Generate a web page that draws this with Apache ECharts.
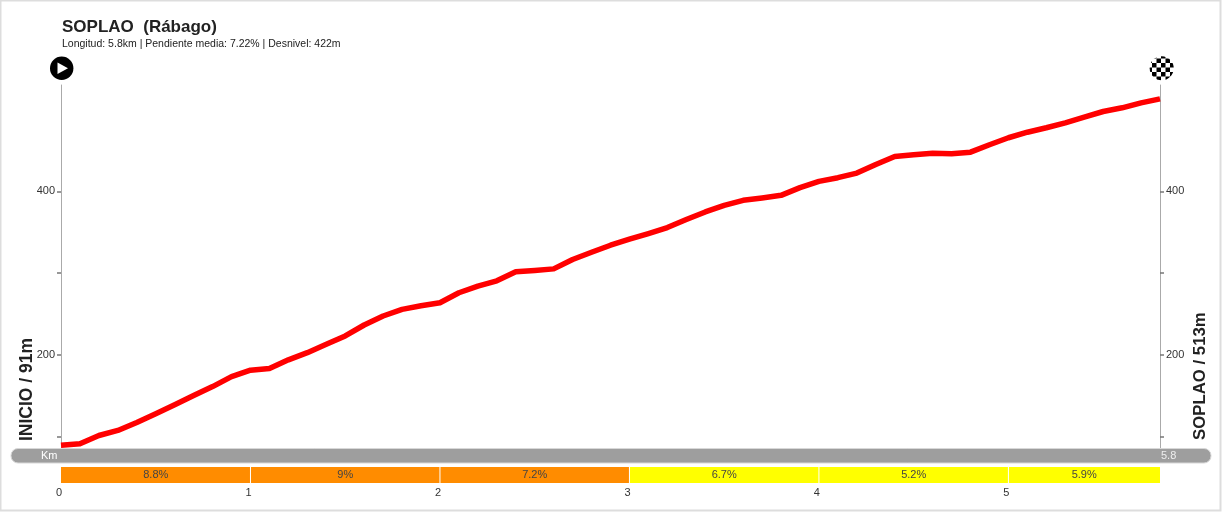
<!DOCTYPE html>
<html><head><meta charset="utf-8">
<style>html,body{margin:0;padding:0;background:#fff}#c{width:1222px;height:512px}</style>
<script src="https://cdn.jsdelivr.net/npm/echarts@6/dist/echarts.min.js"></script>
</head><body><div id="c"></div>
<script>
const titleText = 'SOPLAO  (Rábago)';
const subtitleText = 'Longitud: 5.8km | Pendiente media: 7.22% | Desnivel: 422m';
const startLabel = 'INICIO / 91m';
const endLabel = 'SOPLAO / 513m';
const km = [0,0.1,0.2,0.3,0.4,0.5,0.6,0.7,0.8,0.9,1,1.1,1.2,1.3,1.4,1.5,1.6,1.7,1.8,1.9,2,2.1,2.2,2.3,2.4,2.5,2.6,2.7,2.8,2.9,3,3.1,3.2,3.3,3.4,3.5,3.6,3.7,3.8,3.9,4,4.1,4.2,4.3,4.4,4.5,4.6,4.7,4.8,4.9,5,5.1,5.2,5.3,5.4,5.5,5.6,5.7,5.8];
const elevation = [89.5,91.5,101.5,107.7,117.4,128,139,150.4,161.3,173.5,181.3,183.3,194,202.8,213,223.2,236.6,247.6,255.7,260.1,263.8,276,284.1,290.6,301.6,303.3,305.2,316.7,325.6,334.1,341.5,348.4,355.7,365.5,374.8,382.9,389,391.8,395.1,404.5,412.2,416.7,422.3,432.9,442.7,444.8,446.7,446,447.9,457,465.5,472.3,477.7,483.8,490.6,497.6,502.1,508.2,513];
const segStart = [0,1,2,3,4,5];
const segEnd = [1,2,3,4,5,5.8];
const segGrade = ['8.8%','9%','7.2%','6.7%','5.2%','5.9%'];
const segColor = ['#FF8C00','#FF8C00','#FF8C00','#FFFF00','#FFFF00','#FFFF00'];
const yTicks = [100,200,300,400];
const yLabels = [200,400];
const xLabels = [0,1,2,3,4,5];
const kmLabel = 'Km';
const kmEnd = '5.8';

const font = '"Liberation Sans", Arial, sans-serif';
const chart = echarts.init(document.getElementById('c'), null, {renderer:'canvas'});

const pat = document.createElement('canvas');
pat.width = 9; pat.height = 9;
const pc = pat.getContext('2d');
pc.fillStyle = '#fff'; pc.fillRect(0,0,9,9);
pc.fillStyle = '#000'; pc.fillRect(0,0,4.5,4.5); pc.fillRect(4.5,4.5,4.5,4.5);

function yAxis(pos){
  return {
    type:'value', gridIndex:0, position:pos, min:85, max:530,
    axisLine:{show:true,lineStyle:{color:'#aaa',width:1}},
    axisTick:{show:true,length:4,customValues:yTicks,lineStyle:{color:'#777',width:1.5}},
    axisLabel:{show:true,customValues:yLabels,margin:6,fontSize:11,fontFamily:font,color:'#333'},
    splitLine:{show:false}
  };
}

chart.setOption({
  animation:false,
  backgroundColor:'#fff',
  title:{
    text:titleText, subtext:subtitleText, left:62, top:18.5, itemGap:3.5, padding:0,
    textStyle:{fontFamily:font,fontSize:17,fontWeight:'bold',color:'#222'},
    subtextStyle:{fontFamily:font,fontSize:10.5,color:'#222'}
  },
  grid:[
    {left:61,width:1099,top:85,height:364},
    {left:61,width:1099,top:467,height:16}
  ],
  xAxis:[
    {type:'value',gridIndex:0,min:0,max:5.8,show:false},
    {type:'value',gridIndex:1,min:0,max:5.8,interval:1,
     axisLine:{show:false},axisTick:{show:false},splitLine:{show:false},
     axisLabel:{customValues:xLabels,margin:4,fontSize:11,fontFamily:font,color:'#333',padding:[0,4,0,0]}}
  ],
  yAxis:[
    yAxis('left'),
    yAxis('right'),
    {type:'value',gridIndex:1,min:0,max:1,show:false}
  ],
  series:[
    {type:'line',xAxisIndex:0,yAxisIndex:0,showSymbol:false,symbol:'none',smooth:false,
     data:km.map((k,i)=>[k,elevation[i]]),
     lineStyle:{color:'#FF0000',width:5.5,cap:'butt',join:'round'}},
    {type:'custom',xAxisIndex:1,yAxisIndex:2,
     data:segStart.map((s,i)=>[s,segEnd[i],segGrade[i],segColor[i]]),
     renderItem(params,api){
       const a = api.coord([api.value(0),1]);
       const b = api.coord([api.value(1),0]);
       const i = params.dataIndex;
       return {type:'group',children:[
         {type:'rect',shape:{x:a[0],y:a[1],width:b[0]-a[0],height:b[1]-a[1]},
          style:{fill:segColor[i]}},
         {type:'rect',shape:{x:a[0]+(i?-0.5:0),y:a[1],width:i?1:0,height:b[1]-a[1]},
          style:{fill:'#fff'}},
         {type:'text',style:{text:segGrade[i],x:(a[0]+b[0])/2,y:(a[1]+b[1])/2,
          align:'center',verticalAlign:'middle',font:'11px '+font,fill:'#444'}}
       ]};
     }}
  ],
  graphic:[
    {type:'rect',silent:true,z:-1,shape:{x:0.5,y:0.5,width:1220,height:510},
     style:{fill:'none',stroke:'#ddd',lineWidth:2}},
    {type:'rect',z:5,shape:{x:11,y:448.5,width:1200,height:14.5,r:7},
     style:{fill:'#9e9e9e',stroke:'#d8d8d8',lineWidth:1}},
    {type:'text',z:6,style:{text:kmLabel,x:41,y:456,verticalAlign:'middle',font:'11px '+font,fill:'#fff'}},
    {type:'text',z:6,style:{text:kmEnd,x:1161,y:456,verticalAlign:'middle',font:'11px '+font,fill:'#eee'}},
    {type:'text',x:27,y:441,rotation:Math.PI/2,
     style:{text:startLabel,align:'left',verticalAlign:'middle',font:'bold 17.5px '+font,fill:'#222'}},
    {type:'text',x:1200.5,y:440,rotation:Math.PI/2,
     style:{text:endLabel,align:'left',verticalAlign:'middle',font:'bold 16.8px '+font,fill:'#222'}},
    {type:'circle',shape:{cx:61.7,cy:68.3,r:11.7},style:{fill:'#000'}},
    {type:'polygon',shape:{points:[[57.5,62.5],[57.5,74],[68,68.3]]},style:{fill:'#fff'}},
    {type:'circle',shape:{cx:1161.7,cy:68.3,r:12},style:{fill:{image:pat,repeat:'repeat'}}}
  ]
});
</script></body></html>
